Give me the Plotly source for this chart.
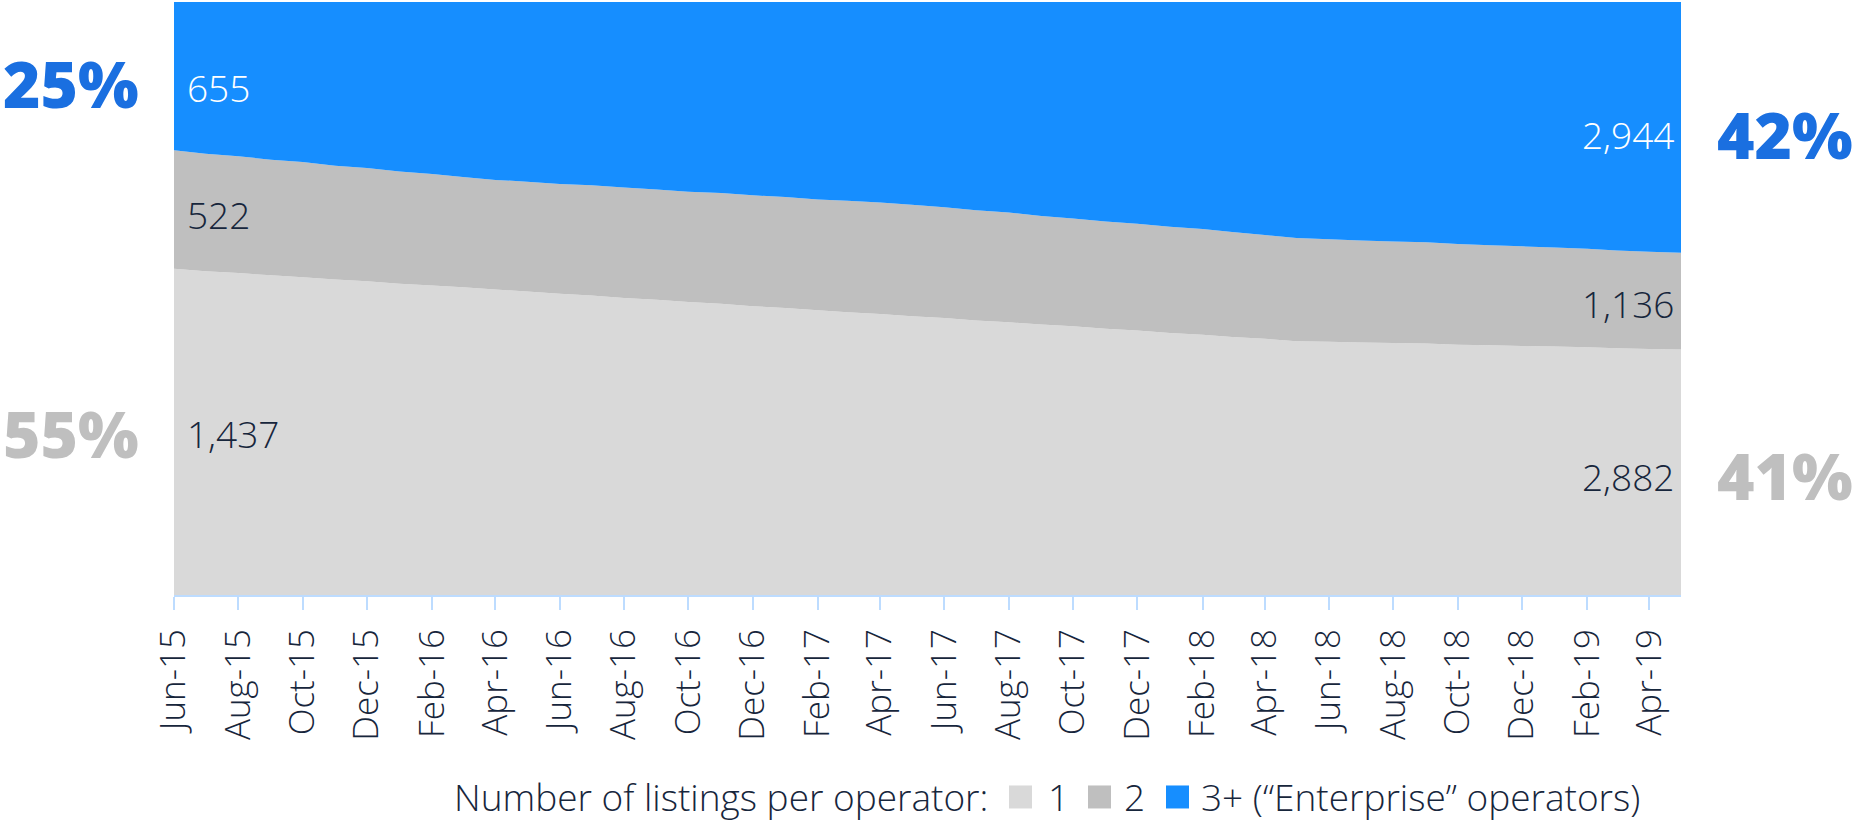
import pandas as pd
import plotly.graph_objects as go

# ---------------- data ----------------
months = pd.date_range("2015-06-01", periods=48, freq="MS")

# share of listings (%) by number of listings per operator
share_1 = [55.0, 54.6, 54.3, 53.9, 53.6, 53.2, 52.9, 52.5, 52.2, 51.9, 51.5, 51.2,
           50.8, 50.5, 50.1, 49.8, 49.4, 49.1, 48.7, 48.4, 48.0, 47.7, 47.4, 47.0,
           46.7, 46.3, 46.0, 45.6, 45.3, 44.9, 44.6, 44.2, 43.9, 43.5, 43.2, 42.8,
           42.7, 42.6, 42.5, 42.4, 42.2, 42.1, 42.0, 41.9, 41.8, 41.6, 41.5, 41.4]
share_2 = [20.0, 19.8, 19.7, 19.5, 19.4, 19.2, 19.1, 18.9, 18.8, 18.6, 18.5, 18.5,
           18.5, 18.6, 18.6, 18.6, 18.6, 18.7, 18.7, 18.7, 18.7, 18.8, 18.8, 18.8,
           18.7, 18.6, 18.5, 18.3, 18.2, 18.1, 18.0, 17.9, 17.8, 17.7, 17.5, 17.4,
           17.3, 17.2, 17.1, 17.1, 17.0, 16.9, 16.8, 16.7, 16.6, 16.5, 16.4, 16.3]
share_3 = [25.0, 25.6, 26.0, 26.6, 27.0, 27.6, 28.0, 28.6, 29.0, 29.5, 30.0, 30.3,
           30.7, 30.9, 31.3, 31.6, 32.0, 32.2, 32.6, 32.9, 33.3, 33.5, 33.8, 34.2,
           34.6, 35.1, 35.5, 36.1, 36.5, 37.0, 37.4, 37.9, 38.3, 38.8, 39.3, 39.8,
           40.0, 40.2, 40.4, 40.5, 40.8, 41.0, 41.2, 41.4, 41.6, 41.9, 42.1, 42.3]

series_names = ["1", "2", "3+ (\u201cEnterprise\u201d operators)"]
series_shares = [share_1, share_2, share_3]
series_colors = ["#d9d9d9", "#bfbfbf", "#168eff"]

start_counts = [1437, 522, 655]   # Jun-15
end_counts = [2882, 1136, 2944]   # May-19

legend_title = "Number of listings per operator:"

# ---------------- style ----------------
FONT = "Open Sans"
DARK = "#17263c"
AXIS_BLUE = "#bddcff"
PCT_COLORS = ["#bfbfbf", None, "#1a6fe0"]

fig = go.Figure()
for name, ys, col in zip(series_names, series_shares, series_colors):
    fig.add_trace(go.Scatter(
        x=months, y=ys, name=name, stackgroup="one", groupnorm="percent",
        mode="none", fillcolor=col, line=dict(width=0), showlegend=False,
        hovertemplate="%{x|%b-%y}: %{y:.1f}%<extra>" + name + "</extra>",
    ))

annotations = []

# count labels at the two ends
left_y = [27.2, 64.2, 85.5]
right_y = [19.9, 49.2, 77.7]
label_colors = [DARK, DARK, "white"]
for i in range(3):
    annotations.append(dict(
        x=months[0], y=left_y[i], xref="x", yref="y", text=f"{start_counts[i]:,}",
        xanchor="left", yanchor="middle", xshift=11, showarrow=False,
        font=dict(family=FONT, size=37, color=label_colors[i], weight=300)))
    annotations.append(dict(
        x=months[-1], y=right_y[i], xref="x", yref="y", text=f"{end_counts[i]:,}",
        xanchor="right", yanchor="middle", xshift=-5, showarrow=False,
        font=dict(family=FONT, size=37, color=label_colors[i], weight=300)))

# big share labels outside the plot
tot_start = sum(start_counts)
tot_end = sum(end_counts)
left_pct_y = {0: 27.3, 2: 86.2}
right_pct_y = {0: 20.2, 2: 77.7}
for i in (0, 2):
    annotations.append(dict(
        x=0, y=left_pct_y[i], xref="paper", yref="y",
        text=f"{round(100 * start_counts[i] / tot_start)}%",
        xanchor="right", yanchor="middle", xshift=-33, showarrow=False,
        font=dict(family=FONT, size=64, color=PCT_COLORS[i], weight=800)))
    annotations.append(dict(
        x=1, y=right_pct_y[i], xref="paper", yref="y",
        text=f"{round(100 * end_counts[i] / tot_end)}%",
        xanchor="left", yanchor="middle", xshift=34, showarrow=False,
        font=dict(family=FONT, size=64, color=PCT_COLORS[i], weight=800)))

# custom legend below the chart
LEG_Y = -0.3406
annotations.append(dict(
    x=0, y=LEG_Y, xref="paper", yref="paper", text=legend_title,
    xanchor="left", yanchor="middle", xshift=278, showarrow=False,
    font=dict(family=FONT, size=37, color=DARK, weight=300)))
swatch_x = [835, 914, 992]
text_x = [872, 948, 1025]
shapes = []
for name, col, sx, tx in zip(series_names, series_colors, swatch_x, text_x):
    shapes.append(dict(
        type="rect", xref="paper", yref="paper", xsizemode="pixel", ysizemode="pixel",
        xanchor=0, yanchor=LEG_Y, x0=sx, x1=sx + 23, y0=-11.5, y1=11.5,
        fillcolor=col, line=dict(width=0)))
    annotations.append(dict(
        x=0, y=LEG_Y, xref="paper", yref="paper", text=name,
        xanchor="left", yanchor="middle", xshift=tx, showarrow=False,
        font=dict(family=FONT, size=37, color=DARK, weight=300)))

fig.update_layout(
    width=1852, height=822,
    margin=dict(l=174, r=171, t=2, b=227),
    paper_bgcolor="white", plot_bgcolor="white",
    showlegend=False,
    annotations=annotations,
    shapes=shapes,
    xaxis=dict(
        type="date", range=[months[0], months[-1]],
        tick0=months[0], dtick="M2", tickformat="%b-%y", tickangle=-90,
        ticks="outside", ticklen=13, tickwidth=2, tickcolor=AXIS_BLUE,
        showline=True, linecolor=AXIS_BLUE, linewidth=2,
        showgrid=False, zeroline=False, ticklabelstandoff=5,
        tickfont=dict(family=FONT, size=35, color=DARK, weight=300),
    ),
    yaxis=dict(visible=False, range=[0, 100], fixedrange=True),
)

fig.write_html(
    "out.html",
    config={"displayModeBar": False},
    post_script="document.body.style.margin='0';document.body.style.overflow='hidden';",
)
